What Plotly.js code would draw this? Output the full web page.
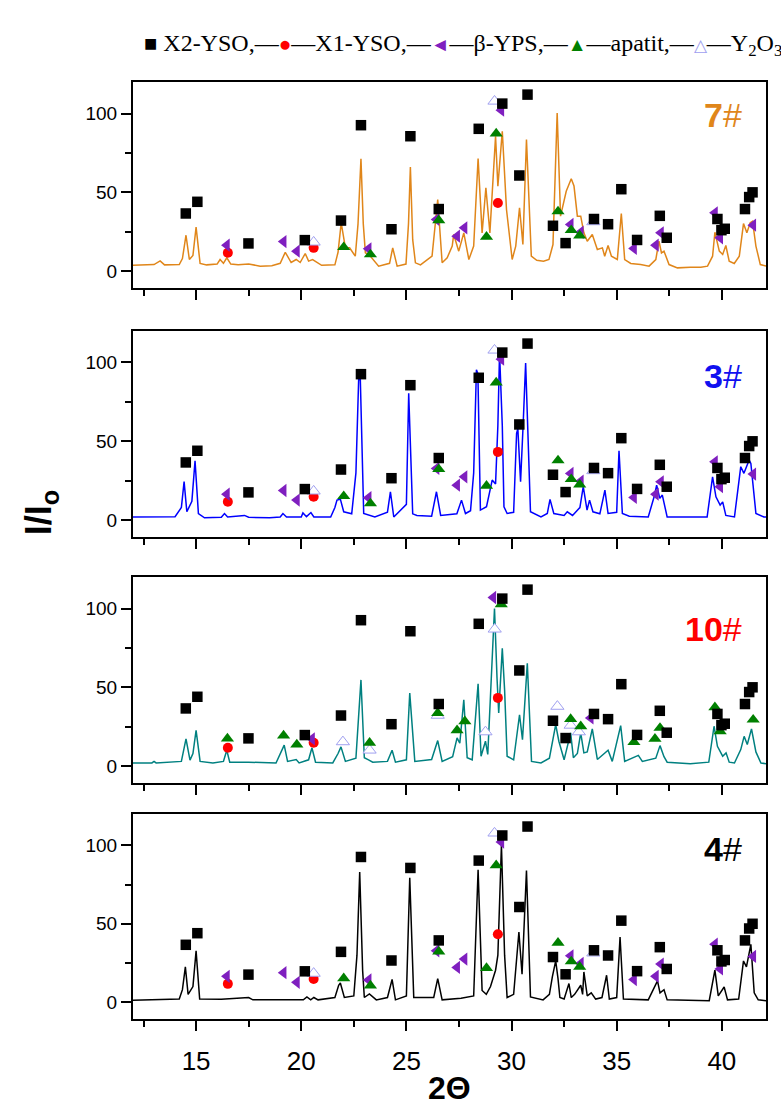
<!DOCTYPE html>
<html>
<head>
<meta charset="utf-8">
<script src="https://cdn.plot.ly/plotly-3.0.1.min.js"></script>
<style>html,body{margin:0;padding:0;background:#fff;}</style>
</head>
<body>
<div id="chart" style="width:781px;height:1110px;"></div>
<script>
// ---------- XRD patterns (2Θ, I/Io) ----------
const p7x = [12.0,12.6,13.0,13.29,13.5,14.2,14.35,14.52,14.68,14.85,15.0,15.19,15.5,16.0,16.14,16.3,16.46,16.65,17.0,17.5,18.05,18.6,19.0,19.24,19.52,19.76,19.95,20.19,20.35,20.54,20.97,21.6,21.75,21.9,22.1,22.3,22.57,22.7,22.84,22.95,23.05,23.29,23.68,24.2,24.35,24.56,24.98,25.1,25.19,25.3,25.43,25.67,26.22,26.49,26.7,26.94,27.18,27.25,27.49,27.73,27.97,28.2,28.41,28.6,28.78,28.97,29.24,29.35,29.56,29.76,30.03,30.2,30.38,30.54,30.71,30.94,31.2,31.52,31.78,31.97,32.17,32.33,32.6,32.84,32.97,33.13,33.29,33.44,33.6,33.84,34.08,34.32,34.43,34.59,34.75,35.03,35.22,35.38,35.67,36.14,36.54,36.86,37.01,37.13,37.25,37.49,37.89,38.5,39.0,39.32,39.56,39.67,39.88,40.04,40.19,40.35,40.59,40.83,41.03,41.19,41.35,41.46,41.62,41.83,42.1];
const p7y = [3.8,4.0,4.2,6.5,4.0,4.2,8,22.8,7.4,10,27.9,4.9,4.0,4.5,7.4,5.0,8.5,4.5,4.0,4.5,3.2,3.5,5,12,5.5,7.4,5.5,11.2,6.4,7.4,3.7,4,12,30.7,14.8,14.8,9.5,30,71.3,30,11.7,9.5,3.2,5,14.8,3.2,4.5,30,66,20,5.3,4,9.5,45.5,5.3,8.5,15.9,23.3,12.7,24.3,7.4,15.9,71.5,24.3,52.9,24.3,85.6,53.9,88.8,39.1,7.4,15.9,40.2,16.9,83.5,9.5,6.9,6.3,7.4,16.9,100.4,34.9,50.7,58.6,54,34.9,34.9,24.3,19,23.3,13.7,14.8,9.5,16.3,9.5,7.4,36.6,7.4,4.9,4.2,3.2,7.4,19,11.6,12.7,4.2,2.1,2.5,2.5,3.2,9.5,24.7,12.7,10.6,16.3,6.3,4.9,9.5,30.2,24.3,30.7,31.7,15.9,4.2,3.2];

const p3x = [12.0,13.0,14.0,14.3,14.43,14.56,14.8,14.95,15.11,15.4,16.2,16.35,16.5,17.3,17.5,18.5,19.0,19.13,19.3,20.0,20.08,20.25,20.46,20.6,21.4,21.6,21.7,21.86,22.02,22.4,22.6,22.73,22.81,22.97,23.5,24.1,24.24,24.4,25.0,25.11,25.3,25.5,26.2,26.43,26.63,27.4,27.62,27.81,28.05,28.2,28.33,28.4,28.52,28.81,29.08,29.24,29.35,29.43,29.56,29.64,29.79,30.1,30.24,30.3,30.43,30.55,30.67,30.9,31.4,31.7,31.83,32.01,32.5,32.65,32.9,33.25,33.41,33.59,33.71,33.87,34.2,34.44,34.59,35.0,35.11,35.27,35.6,36.5,36.78,36.9,37.05,37.17,37.4,39.3,39.56,39.72,39.92,40.04,40.19,40.6,40.9,41.05,41.3,41.38,41.62,42.0,42.1];
const p3y = [2,2,2.2,8,24.4,5.3,12,37.7,4.2,1.5,1.8,4.2,2,3,1.8,1.5,2,4.2,2,2,4.6,2.2,4.8,2,2,8,12.7,13.3,5.3,4,30,89,89,4.2,2,5,18,2,10,80.5,4,3,2.5,18,3,4,12.7,4.2,6,30,95.4,93,6.4,8.5,25.4,23,60,106,60,8.5,4.2,5,55.1,58,24.4,60,99.6,5.3,2,4.2,13.2,4.2,3,5.3,3,8,21.2,6.4,12.7,5.3,4,19,4.2,5,44,4.2,2.5,2,14.8,22.2,13.8,15.9,2,2,27.5,14.8,9.5,11.6,3,2,33.9,29.7,38.1,36,4.2,2,2];

const p10x = [12.0,12.9,13.0,13.1,14.3,14.52,14.71,14.85,15.0,15.19,15.8,16.3,16.46,16.6,17.5,18.8,19.19,19.35,19.76,19.9,20.35,20.51,20.68,21.5,21.75,21.89,22.1,22.6,22.84,23.0,23.2,23.4,24.1,24.32,24.48,25.0,25.16,25.4,26.2,26.49,26.7,27.2,27.41,27.54,27.73,27.89,28.13,28.41,28.55,28.76,28.87,29.08,29.19,29.31,29.39,29.56,29.67,29.79,30.1,30.38,30.52,30.75,30.95,31.4,31.8,32.1,32.25,32.5,32.81,32.94,33.13,33.29,33.44,33.6,33.84,34.08,34.59,34.79,35.19,35.38,36.03,36.22,36.86,37.06,37.25,37.4,38.5,39.38,39.63,39.79,40.04,40.2,40.35,40.6,40.9,41.06,41.21,41.41,41.62,41.86,42.1];
const p10y = [2,2,3,2,3,17.3,3.8,8,22.7,3,2,3,10.1,2.5,2.5,2,13.3,3,4.2,2,4,11.6,2.5,2,8,12.2,3,5,54.7,5.3,4,2.5,3,10.1,2.5,4,46.3,3,4.2,16.2,3,6,17.9,14.5,42.1,5.3,4,52.2,6.3,15.8,7.4,73.7,100,55.8,33.7,74.7,48.4,6.3,4,32.6,16.8,65.3,3,2,5,26.3,15.8,4,21.1,5.3,8,21.1,8.4,9,23.6,4.2,10.1,3,25.7,3,6.8,3,5,13,6,2.5,1.5,2.5,25.3,12.6,6.3,8.4,2.5,2,10.5,18.9,13.7,23.6,9,2,1.5];

const p4x = [12.0,13.0,14.2,14.35,14.49,14.62,14.85,15.0,15.17,16.2,17.5,17.7,20.1,20.27,20.45,20.6,20.8,21.6,21.78,21.86,22.05,22.5,22.65,22.78,22.92,23.0,23.24,23.57,24.1,24.32,24.48,25.0,25.16,25.35,26.3,26.49,26.7,27.6,28.2,28.41,28.6,28.8,29.0,29.24,29.35,29.52,29.67,29.79,30.1,30.35,30.5,30.71,30.9,31.5,31.8,31.94,32.1,32.21,32.3,32.5,32.73,32.84,33.0,33.29,33.38,33.44,33.6,33.79,34.0,34.3,34.52,34.65,35.0,35.16,35.32,36.5,36.94,37.06,37.25,37.4,39.4,39.67,39.83,40.11,40.27,40.8,41.03,41.17,41.38,41.54,41.73,42.1];
const p4y = [1.3,1.5,2,8,22.5,5,10,32.7,2,1.9,3,1.5,1.5,3.4,1.5,3,1.5,3,10.8,12.2,3,4,30,83,20,3,5.3,1.5,3,14.5,1.5,4,79.4,3,3,15.1,1.5,2.5,4,84.5,7.5,5,10,20.4,30,100,30,3,5,44.8,17.8,84,3.4,1.5,5,16.1,26.3,15,3,2,11.9,3,5,10.8,5,19.3,4,6,2,3,17.2,2,3,41.6,2,1.5,13.6,6,8,1.5,1,20.4,4,9.7,1.5,2,26.3,22.5,36.9,6,1.5,1];

// ---------- phase reference markers ----------
const x2ysoX = [14.51,15.06,17.49,20.17,21.89,22.84,24.29,25.19,26.54,28.44,29.56,30.76,30.37,31.97,32.57,33.92,34.59,35.22,35.97,37.05,37.38,39.79,39.98,40.14,41.1,41.3,41.46];
const x2ysoY = [36.6,44.0,17.6,19.7,32.1,92.6,26.6,85.6,39.4,90.3,106.3,112,60.7,28.8,17.8,33.1,29.8,52,19.8,35.1,21.2,33.1,26.0,26.9,39.4,47,50];
const x1ysoX = [16.51,20.59,29.35];
const x1ysoY = [11.7,14.8,43.3];
const bypsX = [16.46,19.16,19.79,23.2,26.43,27.41,27.76,29.51,32.81,33.29,35.82,36.86,37.1,39.67,39.92,41.49];
const bypsY = [16.5,18.8,12.7,14.2,32.8,22.2,27.5,102.1,29.6,24.7,14.4,16.5,24.3,37.0,21.2,29.2];
const apatitX = [22.02,23.29,26.54,28.81,29.27,32.21,32.84,33.24];
const apatitY = [15.2,10.6,32.3,21.8,87.3,37.9,26.0,22.6];
const y2o3X = [20.59,29.19,33.89];
const y2o3Y = [18.4,107.8,31.3];
// sample 10# has its own marker set
const byps10X = [20.51,29.13,33.76];
const byps10Y = [17.3,107,30.6];
const apatit10X = [16.49,19.16,19.79,23.25,26.49,27.41,27.78,29.51,32.81,33.29,35.82,36.82,37.06,39.67,39.92,41.49];
const apatit10Y = [17.5,19.4,13.7,14.8,33.7,22.7,28.4,102.7,29.9,25.3,15.2,17.3,24.2,37.3,22.1,29.5];
const y2o310X = [21.98,23.25,26.49,28.76,29.2,32.18,32.81,33.2];
const y2o310Y = [15.4,10.1,32.2,21.7,86.9,37.9,25.9,21.7];

const sampleLabels = ['7', '3', '10', '4'];
const legendNames = ['X2-YSO,', 'X1-YSO,', 'β-YPS,', 'apatit,', 'Y<sub>2</sub>O<sub>3</sub>'];
const xTickVals = [15, 20, 25, 30, 35, 40];

// ---------- styles ----------
const ORANGE = '#E0861A', BLUE = '#0000FF', TEAL = '#008080', BLACK = '#000000';
const RED = '#FF0000', PURPLE = '#7F1FBF', GREEN = '#008000', LAV = '#A0A0F0';
const lineColors = [ORANGE, BLUE, TEAL, BLACK];
const labelColors = [ORANGE, '#1010F0', RED, BLACK];
const patterns = [[p7x, p7y], [p3x, p3y], [p10x, p10y], [p4x, p4y]];

const mk = {
  x2: {symbol: 'square', size: 10.5, color: BLACK},
  x1: {symbol: 'circle', size: 10, color: RED},
  by: {symbol: 'triangle-left', size: 11.5, color: PURPLE},
  ap: {symbol: 'triangle-up', size: 11.5, color: GREEN},
  yo: {symbol: 'triangle-up', size: 11.5, color: '#FFFFFF', line: {color: LAV, width: 1}}
};

const data = [];
const domains = [[0.7801, 1], [0.5144, 0.7343], [0.2519, 0.4717], [0, 0.2188]];

patterns.forEach((p, i) => {
  const xa = 'x' + (i === 0 ? '' : i + 1);
  const ya = 'y' + (i === 0 ? '' : i + 1);
  data.push({x: p[0], y: p[1], type: 'scatter', mode: 'lines', line: {color: lineColors[i], width: 1.5},
             xaxis: xa, yaxis: ya, showlegend: false, hoverinfo: 'skip'});
  const is10 = i === 2;
  const sets = [
    [x1ysoX, x1ysoY, mk.x1],
    [is10 ? y2o310X : y2o3X, is10 ? y2o310Y : y2o3Y, mk.yo],
    [is10 ? byps10X : bypsX, is10 ? byps10Y : bypsY, mk.by],
    [is10 ? apatit10X : apatitX, is10 ? apatit10Y : apatitY, mk.ap],
    [x2ysoX, x2ysoY, mk.x2]
  ];
  sets.forEach(s => data.push({x: s[0], y: s[1], type: 'scatter', mode: 'markers', marker: s[2],
                               xaxis: xa, yaxis: ya, showlegend: false, hoverinfo: 'skip'}));
});

const layout = {
  width: 781, height: 1110,
  margin: {l: 133, r: 15, t: 82, b: 91},
  paper_bgcolor: '#FFFFFF', plot_bgcolor: '#FFFFFF',
  font: {family: 'Liberation Sans, Arial, sans-serif', color: '#000'},
  showlegend: false,
  annotations: []
};

for (let i = 0; i < 4; i++) {
  const sx = i === 0 ? '' : String(i + 1);
  layout['xaxis' + sx] = {
    domain: [0, 1], anchor: 'y' + sx, range: [12, 42.1],
    showline: true, mirror: true, linecolor: '#000', linewidth: 2,
    ticks: 'outside', ticklen: 10, tickwidth: 2, tickcolor: '#000',
    tickmode: 'array', tickvals: xTickVals,
    minor: {dtick: 2.5, tick0: 0, ticks: 'outside', ticklen: 6, tickwidth: 2, tickcolor: '#000'},
    showgrid: false, zeroline: false, fixedrange: true,
    showticklabels: i === 3, ticklabelstandoff: 8,
    tickfont: {size: 26, family: 'Liberation Sans, Arial, sans-serif', color: '#000'}
  };
  layout['yaxis' + sx] = {
    domain: domains[i], anchor: 'x' + sx, range: [-10.7, 120],
    showline: true, mirror: true, linecolor: '#000', linewidth: 2,
    ticks: 'outside', ticklen: 10, tickwidth: 2, tickcolor: '#000',
    tickmode: 'array', tickvals: [0, 50, 100],
    minor: {dtick: 25, tick0: 0, ticks: 'outside', ticklen: 6, tickwidth: 2, tickcolor: '#000'},
    showgrid: false, zeroline: false, fixedrange: true,
    tickfont: {size: 19, family: 'Liberation Sans, Arial, sans-serif', color: '#000'}
  };
  layout.annotations.push({
    text: '<b>' + sampleLabels[i] + '</b>#', xref: 'paper', yref: 'y' + sx + ' domain',
    x: 0.965, y: [0.84, 0.78, 0.75, 0.83][i], xanchor: 'right', yanchor: 'middle',
    showarrow: false, font: {size: 34, color: labelColors[i], family: 'Liberation Sans, Arial, sans-serif'}
  });
}

// legend line built as rich text
const glyph = (ch, col, sz) => "<span style='color:" + col + ";font-size:" + sz + "px'>" + ch + "</span>";
const legendText =
  glyph('■', BLACK, 22) + ' ' + legendNames[0] +
  '—' + glyph('●', RED, 21) + '—' + legendNames[1] +
  '—' + glyph('◄', PURPLE, 19) + '—' + legendNames[2] +
  '—' + glyph('▲', GREEN, 19) + '—' + legendNames[3] +
  '—' + glyph('△', LAV, 17) + '—' + legendNames[4];
layout.annotations.push({
  text: legendText, xref: 'paper', yref: 'paper', x: 0.014, y: 1.0395,
  xanchor: 'left', yanchor: 'middle', showarrow: false,
  font: {size: 24, family: 'Liberation Serif, Times New Roman, serif', color: '#000'}
});

layout.annotations.push({
  text: '<b>I/I<sub>o</sub></b>', xref: 'paper', yref: 'paper', x: -0.145, y: 0.54,
  xanchor: 'center', yanchor: 'middle', textangle: -90, showarrow: false,
  font: {size: 36, family: 'Liberation Sans, Arial, sans-serif', color: '#000'}
});
layout.annotations.push({
  text: '<b>2Θ</b>', xref: 'paper', yref: 'paper', x: 0.5, y: -0.074,
  xanchor: 'center', yanchor: 'middle', showarrow: false,
  font: {size: 32, family: 'Liberation Sans, Arial, sans-serif', color: '#000'}
});

Plotly.newPlot('chart', data, layout, {staticPlot: true});
</script>
</body>
</html>
